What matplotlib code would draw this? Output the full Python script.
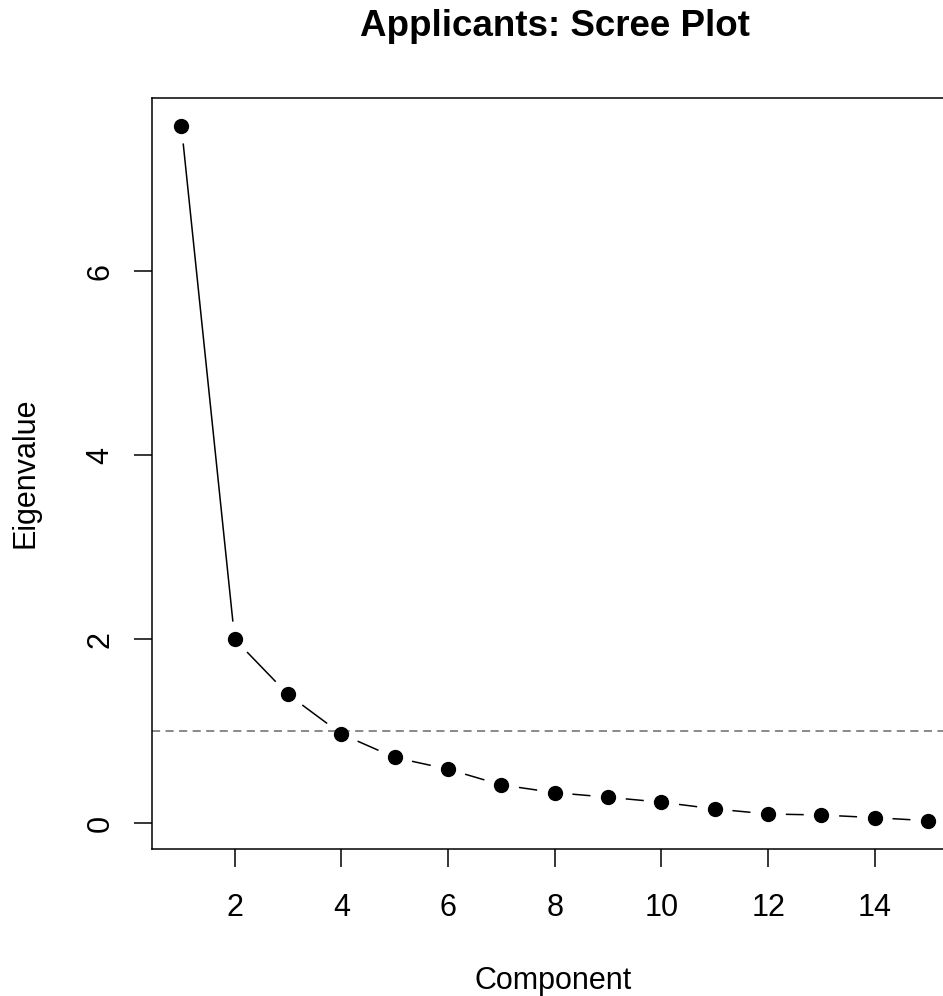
import numpy as np
import matplotlib
matplotlib.use("Agg")
import matplotlib.pyplot as plt
from matplotlib.lines import Line2D

# ---- data ----
components = list(range(1, 16))
eigenvalues = [7.58, 2.00, 1.40, 0.97, 0.715, 0.588, 0.417, 0.333,
               0.283, 0.229, 0.156, 0.101, 0.090, 0.061, 0.028]
xticks = [2, 4, 6, 8, 10, 12, 14]
yticks = [0, 2, 4, 6]
title = "Applicants: Scree Plot"
xlabel = "Component"
ylabel = "Eigenvalue"
kaiser = 1.0

plt.rcParams['font.family'] = ['Liberation Sans', 'DejaVu Sans']

W, H = 943, 996
fig = plt.figure(figsize=(W / 100, H / 100), dpi=100)
# axes box in pixels: left 151.5, right ~958 (cropped), top 98, bottom 848.5
left_px, right_px, top_px, bot_px = 151.5, 958.0, 98.0, 848.5
ax = fig.add_axes([left_px / W, (H - bot_px) / H,
                   (right_px - left_px) / W, (bot_px - top_px) / H])

x = np.array(components, dtype=float)
y = np.array(eigenvalues, dtype=float)

# R-style 4% padding
xr = x.max() - x.min()
yr = y.max() - y.min()
ax.set_xlim(x.min() - 0.04 * xr, x.max() + 0.04 * xr)
ax.set_ylim(y.min() - 0.04 * yr, y.max() + 0.04 * yr)

# reference line
ax.axhline(kaiser, color='#808080', lw=1.3, ls=(0, (4.5, 3.0)), zorder=1)

# points
ax.plot(x, y, 'o', color='black', ms=10, zorder=3)

# type="b" segments with gaps around points
fig.canvas.draw()
gap = 18.5  # pixels
pts = ax.transData.transform(np.column_stack([x, y]))
inv = ax.transData.inverted()
for i in range(len(pts) - 1):
    p0, p1 = pts[i], pts[i + 1]
    d = p1 - p0
    L = np.hypot(*d)
    if L <= 2 * gap:
        continue
    u = d / L
    a = inv.transform(p0 + u * gap)
    b = inv.transform(p1 - u * gap)
    ax.add_line(Line2D([a[0], b[0]], [a[1], b[1]], color='black', lw=1.1, zorder=2))

ax.set_xticks(xticks)
ax.set_yticks(yticks)
ax.set_xticklabels([str(t) for t in xticks])
ax.set_yticklabels([str(t) for t in yticks], rotation=90, va='center')
ax.tick_params(axis='both', direction='out', length=13, width=1.1,
               labelsize=22, color='black')
ax.tick_params(axis='x', pad=19)
ax.tick_params(axis='y', pad=13)
for s in ax.spines.values():
    s.set_linewidth(1.1)
    s.set_color('black')

ax.set_xlabel(xlabel, fontsize=22)
ax.xaxis.set_label_coords(((553 - left_px) / (right_px - left_px)),
                          -(981 - bot_px) / (bot_px - top_px))
ax.xaxis.label.set_va('center')
ax.set_ylabel(ylabel, fontsize=22)
ax.yaxis.set_label_coords(-(left_px - 26) / (right_px - left_px), 0.5)
ax.yaxis.label.set_va('center')

ax.text(0.5, (bot_px - 36) / (bot_px - top_px), title, transform=ax.transAxes,
        ha='center', va='baseline', fontsize=26.5, fontweight='bold')

fig.savefig('out.png', dpi=100)
